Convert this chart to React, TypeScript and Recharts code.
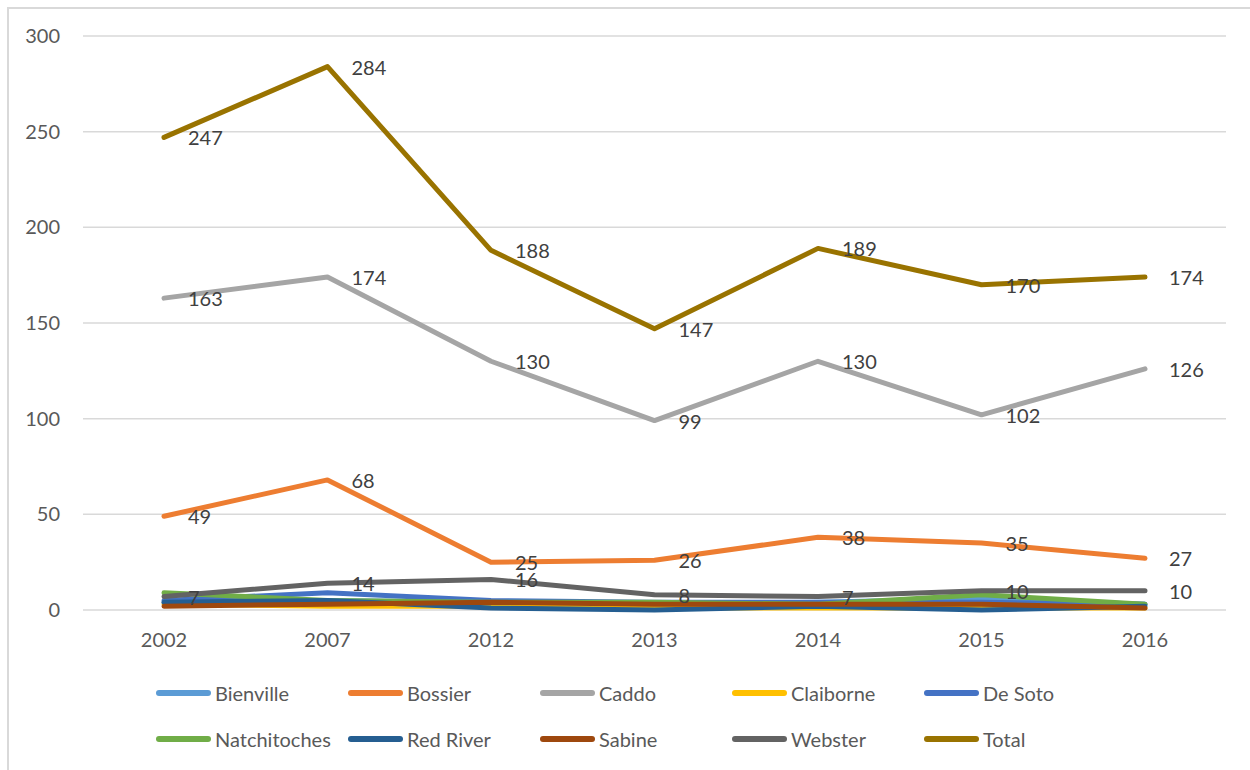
import { CartesianGrid, LabelList, Line, LineChart, XAxis, YAxis } from "recharts";

const years = ["2002", "2007", "2012", "2013", "2014", "2015", "2016"];

const bienville = [4, 5, 4, 3, 4, 6, 3];
const bossier = [49, 68, 25, 26, 38, 35, 27];
const caddo = [163, 174, 130, 99, 130, 102, 126];
const claiborne = [3, 2, 2, 1, 1, 1, 1];
const deSoto = [5, 9, 5, 4, 4, 4, 3];
const natchitoches = [9, 5, 4, 4, 3, 8, 3];
const redRiver = [4, 5, 1, 0, 2, 0, 2];
const sabine = [2, 3, 4, 3, 3, 3, 1];
const webster = [7, 14, 16, 8, 7, 10, 10];
const total = [247, 284, 188, 147, 189, 170, 174];

const yTicks = [0, 50, 100, 150, 200, 250, 300];

const series = [
  { name: "Bienville", values: bienville, color: "#5B9BD5", labels: false },
  { name: "Bossier", values: bossier, color: "#ED7D31", labels: true },
  { name: "Caddo", values: caddo, color: "#A5A5A5", labels: true },
  { name: "Claiborne", values: claiborne, color: "#FFC000", labels: false },
  { name: "De Soto", values: deSoto, color: "#4472C4", labels: false },
  { name: "Natchitoches", values: natchitoches, color: "#70AD47", labels: false },
  { name: "Red River", values: redRiver, color: "#255E91", labels: false },
  { name: "Sabine", values: sabine, color: "#9E480E", labels: false },
  { name: "Webster", values: webster, color: "#636363", labels: true },
  { name: "Total", values: total, color: "#997300", labels: true },
];

const data = years.map((year, i) => {
  const row: Record<string, string | number> = { year };
  series.forEach((s) => {
    row[s.name] = s.values[i];
  });
  return row;
});

const FONT = "Lato, 'Open Sans', sans-serif";

function PointLabel(props: any) {
  const { x, y, value } = props;
  return (
    <text
      x={x + 24}
      y={y}
      dominantBaseline="central"
      fill="#404040"
      fontSize={20}
      fontFamily={FONT}
    >
      {value}
    </text>
  );
}

function ChartLegend() {
  return (
    <div
      style={{
        position: "absolute",
        left: 156,
        top: 681,
        display: "grid",
        gridTemplateColumns: "repeat(5, 192px)",
        rowGap: 22,
        fontFamily: FONT,
        fontSize: 20,
        color: "#595959",
      }}
    >
      {series.map((s) => (
        <div key={s.name} style={{ display: "flex", alignItems: "center", height: 24 }}>
          <span
            style={{
              display: "inline-block",
              width: 55,
              height: 6,
              borderRadius: 3,
              background: s.color,
              marginRight: 4,
            }}
          />
          <span>{s.name}</span>
        </div>
      ))}
    </div>
  );
}

export default function App() {
  return (
    <div
      style={{
        position: "absolute",
        left: 0,
        top: 0,
        width: 1250,
        height: 770,
        overflow: "hidden",
        background: "#fff",
      }}
    >
      <div
        style={{
          position: "absolute",
          left: 7,
          top: 7,
          width: 1260,
          height: 780,
          border: "2px solid #d9d9d9",
          boxSizing: "border-box",
        }}
      />
      <LineChart
        width={1250}
        height={770}
        data={data}
        margin={{ top: 36, right: 24, left: 0, bottom: 100 }}
        style={{ position: "absolute", left: 0, top: 0 }}
      >
        <CartesianGrid stroke="#d9d9d9" strokeWidth={1.5} vertical={false} />
        <XAxis
          dataKey="year"
          axisLine={false}
          tickLine={false}
          tickMargin={17}
          height={60}
          padding={{ left: 81, right: 81 }}
          tick={{ fill: "#595959", fontSize: 20, fontFamily: FONT }}
        />
        <YAxis
          domain={[0, 300]}
          ticks={yTicks}
          width={83}
          axisLine={false}
          tickLine={false}
          tickMargin={17}
          tick={{ fill: "#595959", fontSize: 20, fontFamily: FONT }}
        />
        {series.map((s) => (
          <Line
            key={s.name}
            type="linear"
            dataKey={s.name}
            stroke={s.color}
            strokeWidth={5}
            strokeLinecap="round"
            strokeLinejoin="round"
            dot={false}
            isAnimationActive={false}
          >
            {s.labels && <LabelList dataKey={s.name} content={PointLabel} />}
          </Line>
        ))}
      </LineChart>
      <ChartLegend />
    </div>
  );
}
